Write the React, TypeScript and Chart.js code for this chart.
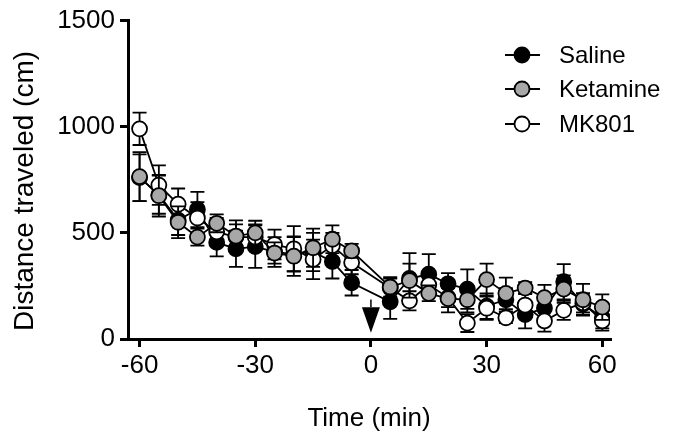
import React, { useEffect, useRef } from "react";
import { Chart, registerables } from "chart.js";

Chart.register(...registerables);

const times = [-60, -55, -50, -45, -40, -35, -30, -25, -20, -15, -10, -5, 5, 10, 15, 20, 25, 30, 35, 40, 45, 50, 55, 60];
const xTickValues = [-60, -30, 0, 30, 60];
const yTickValues = [0, 500, 1000, 1500];

const seriesNames = ["Saline", "Ketamine", "MK801"];
const salineMean = [760, 680, 560, 610, 455, 425, 435, 410, 400, 410, 365, 265, 175, 285, 305, 260, 235, 155, 185, 115, 145, 270, 165, 100];
const ketamineMean = [765, 675, 550, 480, 545, 485, 500, 405, 390, 430, 470, 415, 245, 275, 215, 190, 185, 280, 215, 240, 195, 235, 185, 150];
const mk801Mean = [990, 725, 635, 570, 505, 480, 480, 445, 425, 375, 440, 360, 240, 180, 255, 195, 75, 145, 100, 160, 85, 135, 170, 85];

const salineSem = [110, 90, 70, 83, 66, 85, 100, 70, 80, 90, 80, 60, 80, 120, 95, 50, 93, 60, 55, 65, 55, 83, 50, 50];
const ketamineSem = [115, 98, 75, 40, 42, 74, 57, 50, 93, 90, 65, 33, 46, 80, 37, 65, 60, 75, 74, 28, 60, 65, 75, 60];
const mk801Sem = [76, 93, 74, 75, 65, 60, 60, 70, 107, 93, 60, 55, 45, 45, 45, 45, 42, 55, 25, 55, 50, 45, 45, 46];

const xTitle = "Time (min)";
const yTitle = "Distance traveled (cm)";

const injectionTime = 0;
const arrowStemTop = 186;
const arrowHeadTop = 150;
const arrowTip = 30;

const means = [salineMean, ketamineMean, mk801Mean];
const sems = [salineSem, ketamineSem, mk801Sem];
const fills = ["#000000", "#a8a8a8", "#ffffff"];
const drawOrder = [2, 0, 1];
const FONT = "'Liberation Sans', Arial, Helvetica, sans-serif";

const errorBarPlugin = {
  id: "errorBars",
  beforeDatasetDraw(chart: any, args: any) {
    const i = args.index;
    const meta = args.meta;
    const ys = chart.scales.y;
    const ctx = chart.ctx;
    ctx.save();
    ctx.strokeStyle = "#000";
    ctx.lineWidth = 1.8;
    meta.data.forEach((pt: any, j: number) => {
      const v = means[i][j];
      const e = sems[i][j];
      const yt = ys.getPixelForValue(v + e);
      const yb = ys.getPixelForValue(Math.max(0, v - e));
      const x = pt.x;
      ctx.beginPath();
      ctx.moveTo(x, yt);
      ctx.lineTo(x, yb);
      ctx.moveTo(x - 7, yt);
      ctx.lineTo(x + 7, yt);
      ctx.moveTo(x - 7, yb);
      ctx.lineTo(x + 7, yb);
      ctx.stroke();
    });
    ctx.restore();
  },
};

const arrowPlugin = {
  id: "arrow",
  afterDatasetsDraw(chart: any) {
    const ctx = chart.ctx;
    const xs = chart.scales.x;
    const ys = chart.scales.y;
    const x = xs.getPixelForValue(injectionTime);
    const yStem = ys.getPixelForValue(arrowStemTop);
    const yHead = ys.getPixelForValue(arrowHeadTop);
    const yTip = ys.getPixelForValue(arrowTip);
    ctx.save();
    ctx.strokeStyle = "#000";
    ctx.fillStyle = "#000";
    ctx.lineWidth = 1.5;
    ctx.beginPath();
    ctx.moveTo(x, yStem);
    ctx.lineTo(x, yHead);
    ctx.stroke();
    ctx.beginPath();
    ctx.moveTo(x - 9, yHead);
    ctx.lineTo(x + 9, yHead);
    ctx.lineTo(x, yTip);
    ctx.closePath();
    ctx.fill();
    ctx.restore();
  },
};

const legendPlugin = {
  id: "customLegend",
  afterDraw(chart: any) {
    const ctx = chart.ctx;
    const rowsY = [55, 89, 124];
    ctx.save();
    seriesNames.forEach((name, i) => {
      const y = rowsY[i];
      ctx.strokeStyle = "#000";
      ctx.lineWidth = 1.8;
      ctx.beginPath();
      ctx.moveTo(505, y);
      ctx.lineTo(540, y);
      ctx.stroke();
      ctx.beginPath();
      ctx.arc(522, y, 7.5, 0, Math.PI * 2);
      ctx.fillStyle = fills[i];
      ctx.fill();
      ctx.stroke();
      ctx.fillStyle = "#000";
      ctx.font = `24px ${FONT}`;
      ctx.textBaseline = "middle";
      ctx.textAlign = "left";
      ctx.fillText(name, 559, y + 1);
    });
    // y axis title
    ctx.translate(25, 191);
    ctx.rotate(-Math.PI / 2);
    ctx.font = `28px ${FONT}`;
    ctx.textAlign = "center";
    ctx.textBaseline = "middle";
    ctx.fillStyle = "#000";
    ctx.fillText(yTitle, 0, 0);
    ctx.restore();
  },
};

export default function App() {
  const ref = useRef<HTMLCanvasElement | null>(null);
  useEffect(() => {
    if (!ref.current) return;
    const datasets = seriesNames.map((name, i) => ({
      label: name,
      data: times.map((t, j) => ({ x: t, y: means[i][j] })),
      borderColor: "#000",
      borderWidth: 1.8,
      pointRadius: 7.5,
      pointHoverRadius: 7.5,
      pointBackgroundColor: fills[i],
      pointBorderColor: "#000",
      pointBorderWidth: 1.8,
      fill: false,
      tension: 0,
      order: drawOrder[i],
    }));
    const chart = new Chart(ref.current, {
      type: "line",
      data: { datasets },
      options: {
        animation: false,
        responsive: false,
        layout: { padding: { top: 16, right: 67, left: 0, bottom: 0 } },
        plugins: { legend: { display: false }, tooltip: { enabled: false } },
        scales: {
          x: {
            type: "linear",
            min: -63,
            max: 62,
            afterBuildTicks: (s: any) => {
              s.ticks = xTickValues.map((v) => ({ value: v }));
            },
            afterFit: (s: any) => {
              s.height = 98;
            },
            ticks: { font: { size: 26, family: FONT }, color: "#000", padding: 3, maxRotation: 0, callback: (v: any) => String(v) },
            grid: { display: true, drawOnChartArea: false, drawTicks: true, tickLength: 8, color: "#000", lineWidth: 3 },
            border: { display: true, color: "#000", width: 3 },
            title: { display: true, text: xTitle, font: { size: 26, family: FONT }, color: "#000", padding: { top: 4, bottom: 3 } },
          },
          y: {
            min: 0,
            max: 1500,
            afterBuildTicks: (s: any) => {
              s.ticks = yTickValues.map((v) => ({ value: v }));
            },
            afterFit: (s: any) => {
              s.width = 128;
            },
            ticks: { font: { size: 26, family: FONT }, color: "#000", padding: 5, callback: (v: any) => String(v) },
            grid: { display: true, drawOnChartArea: false, drawTicks: true, tickLength: 8, color: "#000", lineWidth: 3 },
            border: { display: true, color: "#000", width: 3 },
            title: { display: false },
          },
        },
      },
      plugins: [errorBarPlugin, arrowPlugin, legendPlugin],
    });
    return () => chart.destroy();
  }, []);
  return (
    <div style={{ position: "absolute", left: 0, top: 0, width: 677, height: 437, background: "#fff" }}>
      <canvas ref={ref} width={677} height={437} />
    </div>
  );
}
